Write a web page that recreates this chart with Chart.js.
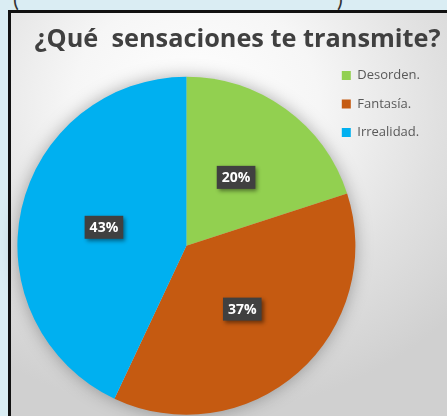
<!DOCTYPE html>
<html>
<head>
<meta charset="utf-8">
<script src="https://cdn.jsdelivr.net/npm/chart.js@4.4.0/dist/chart.umd.min.js"></script>
<style>
  html, body { margin: 0; padding: 0; }
  body { width: 447px; height: 416px; overflow: hidden; background: #daedf3; position: relative; font-family: Lato, sans-serif; }
  .paren { position: absolute; top: -15px; font-size: 22px; color: #333; }
  .box {
    position: absolute; left: 8px; top: 10px; width: 445px; height: 420px;
    box-sizing: border-box; border: 3px solid #111;
    background: radial-gradient(ellipse 80% 75% at 42% 22%, #ffffff 0%, #f6f6f6 35%, #e0e0e0 70%, #d0d0d0 100%);
  }
  canvas { position: absolute; left: 0; top: 0; }
</style>
</head>
<body>
<span class="paren" style="left:13px">(</span>
<span class="paren" style="left:337px">)</span>
<div class="box"></div>
<canvas id="chart" width="447" height="416"></canvas>
<script>
const categories = ['Desorden.', 'Fantasía.', 'Irrealidad.']
const values = [20, 37, 43]
const colors = ['#92d050', '#c55a11', '#00b0f0']

// empty layout boxes so the title can be wider than the pie + legend block
function spacer(position, size) {
    return {
        position: position,
        weight: 2000,
        fullSize: false,
        options: { stackWeight: 1 },
        left: 0, top: 0, right: 0, bottom: 0, width: 0, height: 0,
        isHorizontal() { return false },
        update(maxWidth, maxHeight) {
            this.width = size
            this.height = maxHeight
        },
        draw() {}
    }
}
const spacers = {
    id: 'spacers',
    beforeInit(chart) {
        Chart.layouts.addBox(chart, spacer('left', 13.5))
        Chart.layouts.addBox(chart, spacer('right', 12))
    }
}

// soft halo behind the pie
const pieShadow = {
    id: 'pieShadow',
    beforeDatasetsDraw(chart) {
        const arc = chart.getDatasetMeta(0).data[0]
        if (!arc) return
        const ctx = chart.ctx
        ctx.save()
        ctx.shadowColor = 'rgba(0,0,0,0.35)'
        ctx.shadowBlur = 18
        ctx.fillStyle = '#cccccc'
        ctx.beginPath()
        ctx.arc(arc.x, arc.y, arc.outerRadius - 1, 0, Math.PI * 2)
        ctx.fill()
        ctx.restore()
    }
}

// dark boxes with the percentages
const sliceLabels = {
    id: 'sliceLabels',
    afterDatasetsDraw(chart) {
        const ctx = chart.ctx
        chart.getDatasetMeta(0).data.forEach((arc, i) => {
            const p = arc.getCenterPoint()
            const text = values[i] + '%'
            ctx.save()
            ctx.font = 'bold 14px "Open Sans", sans-serif'
            const w = ctx.measureText(text).width + 10
            const h = 23
            ctx.shadowColor = 'rgba(0,0,0,0.45)'
            ctx.shadowBlur = 4
            ctx.shadowOffsetX = 2
            ctx.shadowOffsetY = 2
            ctx.fillStyle = '#404040'
            ctx.fillRect(p.x - w / 2, p.y - h / 2, w, h)
            ctx.shadowColor = 'transparent'
            ctx.fillStyle = '#ffffff'
            ctx.textAlign = 'center'
            ctx.textBaseline = 'middle'
            ctx.fillText(text, p.x, p.y + 1)
            ctx.restore()
        })
    }
}

new Chart(document.getElementById('chart'), {
    type: 'pie',
    data: {
        labels: categories,
        datasets: [{
            data: values,
            backgroundColor: colors,
            borderWidth: 0,
            radius: 169
        }]
    },
    options: {
        responsive: false,
        animation: false,
        layout: {
            padding: { top: 12, bottom: 0, left: 33, right: 5 }
        },
        plugins: {
            title: {
                display: true,
                text: '¿Qué  sensaciones te transmite?',
                color: '#404040',
                font: { family: 'Open Sans', size: 25.3, weight: 'bold', lineHeight: 1.2 },
                padding: { top: 12.5, bottom: 20.6 }
            },
            legend: {
                position: 'right',
                align: 'start',
                maxWidth: 140,
                title: { display: true, text: '', font: { size: 12 }, padding: { top: 0, bottom: 27 } },
                labels: {
                    boxWidth: 9,
                    boxHeight: 9,
                    padding: 15.5,
                    color: '#595959',
                    font: { family: 'Open Sans', size: 13 }
                }
            },
            tooltip: { enabled: false }
        }
    },
    plugins: [spacers, pieShadow, sliceLabels]
})
</script>
</body>
</html>
